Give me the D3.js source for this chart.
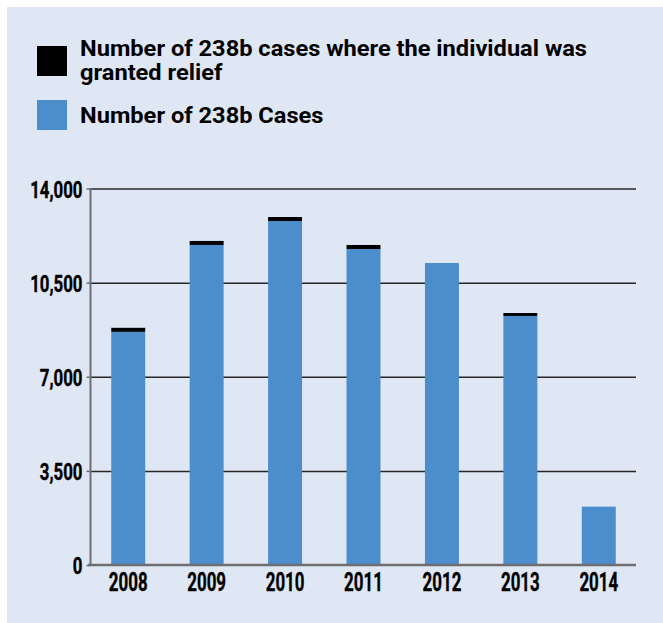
<!DOCTYPE html>
<html><head><meta charset="utf-8">
<script src="https://cdn.jsdelivr.net/npm/d3@7"></script>
<style>
html,body{margin:0;padding:0;background:#fff;}
svg{display:block;}
text{font-family:Roboto,"DejaVu Sans",sans-serif;font-weight:700;fill:#000;}
</style></head>
<body>
<svg id="chart" width="663" height="623"></svg>
<script>
const years = ["2008","2009","2010","2011","2012","2013","2014"];
const casesBlue = [8670, 11900, 12790, 11750, 11230, 9260, 2170];
const reliefBlack = [150, 150, 150, 150, 0, 110, 0];
const yTicks = [0, 3500, 7000, 10500, 14000];
const legendLabels = ["Number of 238b cases where the individual was", "granted relief", "Number of 238b Cases"];

const BLUE = "#4c8ecb", BLACK = "#000000", BG = "#e0e7f4";

const svg = d3.select("#chart");
svg.append("rect").attr("x",7).attr("y",7).attr("width",656).attr("height",616).attr("fill",BG);

const x = d3.scaleBand().domain(years).range([89, 638]).paddingInner(0.567).paddingOuter(0.2835);
const y = d3.scaleLinear().domain([0, 14000]).range([565, 188.5]);

function condense(sel, k){
  sel.each(function(){
    const w = this.getComputedTextLength();
    d3.select(this).attr("textLength", w*k).attr("lengthAdjust","spacingAndGlyphs");
  });
}

// gridlines
const grid = svg.append("g").attr("transform","translate(90,0)")
  .call(d3.axisLeft(y).tickValues(yTicks.filter(d=>d>0)).tickSize(-546).tickFormat(""));
grid.select(".domain").remove();
grid.selectAll("line").attr("stroke","#262626").attr("stroke-width",1.5);

// bars
const data = years.map((yr,i)=>({yr, blue:casesBlue[i], black:reliefBlack[i]}));
svg.append("g").selectAll("rect").data(data).join("rect")
  .attr("x",d=>x(d.yr)).attr("width",x.bandwidth())
  .attr("y",d=>y(d.blue)).attr("height",d=>y(0)-y(d.blue)).attr("fill",BLUE);
svg.append("g").selectAll("rect").data(data.filter(d=>d.black>0)).join("rect")
  .attr("x",d=>x(d.yr)).attr("width",x.bandwidth())
  .attr("y",d=>y(d.blue+d.black)).attr("height",d=>y(d.blue)-y(d.blue+d.black)).attr("fill",BLACK);

// y axis
const ya = svg.append("g").attr("transform","translate(90.5,0)")
  .call(d3.axisLeft(y).tickValues(yTicks).tickSize(4).tickPadding(4).tickFormat(d3.format(",")));
ya.select(".domain").attr("stroke","#6e6e72").attr("stroke-width",2).attr("d","M0,188V565.5");
ya.selectAll("line").attr("stroke","#6e6e72").attr("stroke-width",1.5);
ya.selectAll("text").attr("font-size",24).attr("dy","0.36em").attr("fill","#000").attr("stroke","#000").attr("stroke-width",0.4);
condense(ya.selectAll("text"), 0.7);

// x axis
const xa = svg.append("g").attr("transform","translate(0,565)")
  .call(d3.axisBottom(x).tickSize(0).tickPadding(8));
xa.select(".domain").attr("stroke","#6e6e72").attr("stroke-width",2.5).attr("d","M88,0H636");
xa.selectAll("text").attr("font-size",26).attr("dy","0.71em").attr("fill","#000").attr("stroke","#000").attr("stroke-width",0.4);
condense(xa.selectAll("text"), 0.65);

// legend
const lg = svg.append("g");
lg.append("rect").attr("x",37).attr("y",46).attr("width",30).attr("height",30).attr("fill",BLACK);
lg.append("rect").attr("x",37).attr("y",100).attr("width",30).attr("height",30).attr("fill",BLUE);
const baselines = [56, 80, 123];
const lt = lg.selectAll("text.leg").data(legendLabels).join("text").attr("class","leg")
  .attr("x",80).attr("y",(d,i)=>baselines[i]).attr("font-size",22).text(d=>d);
const w0 = lt.nodes()[0].getComputedTextLength();
const kL = 507 / w0;
condense(lt, kL);
</script>
</body></html>
